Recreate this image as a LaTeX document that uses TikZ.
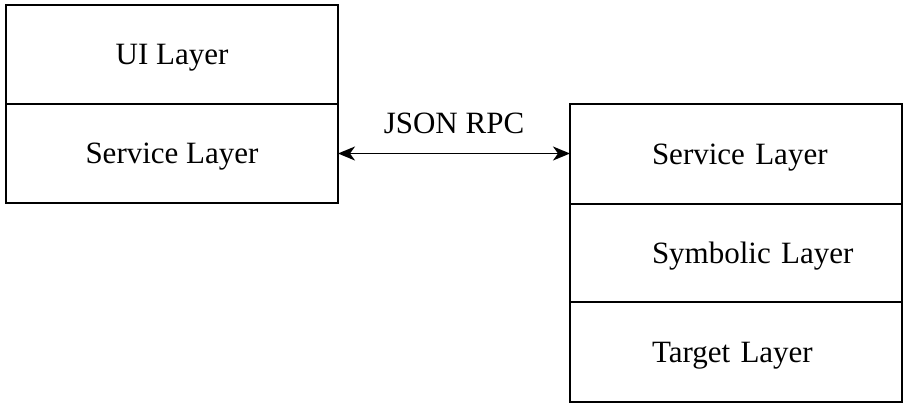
\documentclass[tikz,border=0pt]{standalone}
\usepackage{fontspec}
\setmainfont{Liberation Serif}
\usetikzlibrary{arrows.meta,positioning}

\begin{document}
\begin{tikzpicture}[
    x=1pt, y=-1pt,
    layer/.style={draw, line width=1.6pt, minimum width=332pt, minimum height=99pt, inner sep=0pt,
        outer sep=0pt, text height=20.5pt, text depth=0pt, font=\fontsize{31}{36}\selectfont},
    rlayer/.style={layer, anchor=north west, text width=332pt, align=left,
        execute at begin node={\hspace*{82pt}}},
    >={Stealth[length=17pt, width=14pt, inset=5pt]}
]
\useasboundingbox (0,0) rectangle (907,407);

% Client side
\node[layer] (ui) at (172, 54.5) {UI Layer};
\node[layer, below=0pt of ui] (lservice) {Service Layer};

% Server side
\node[rlayer, minimum height=100pt] (rservice) at (570, 104) {Service Layer};
\node[rlayer, minimum height=98pt] (symbolic) at (rservice.south west) {Symbolic Layer};
\node[rlayer, minimum height=100pt] (target) at (symbolic.south west) {Target Layer};

% Connection
\draw[<->, line width=1.6pt] (lservice.east) -- (lservice.east -| rservice.west)
    node[midway, anchor=base, yshift=20pt, font=\fontsize{31}{36}\selectfont] {JSON RPC};

\end{tikzpicture}
\end{document}
